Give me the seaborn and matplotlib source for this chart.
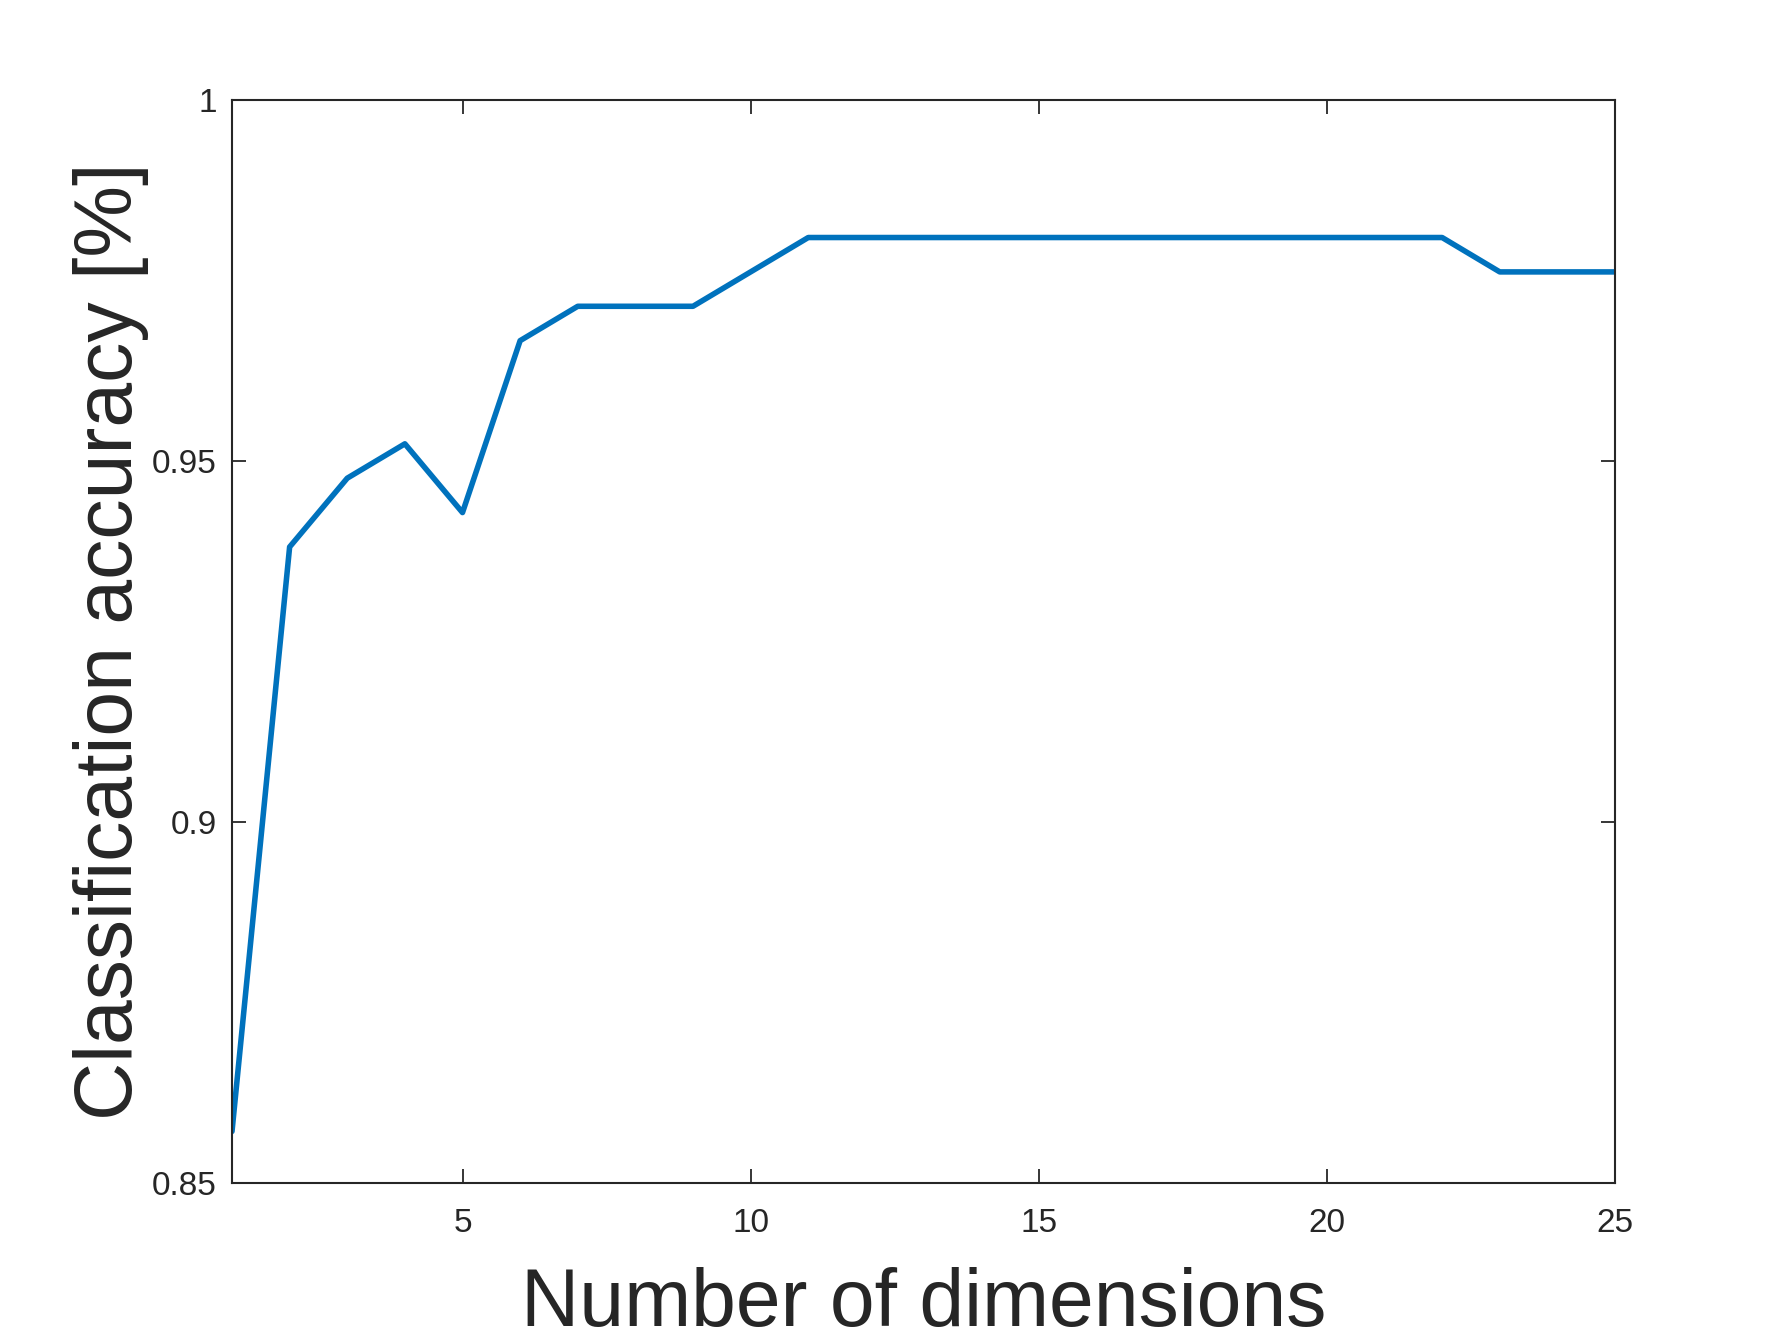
import matplotlib
matplotlib.use("Agg")
import matplotlib.pyplot as plt
import seaborn as sns
import pandas as pd

dimensions = list(range(1, 26))
accuracy = [180/210, 197/210, 199/210, 200/210, 198/210, 203/210, 204/210, 204/210, 204/210,
            205/210, 206/210, 206/210, 206/210, 206/210, 206/210, 206/210, 206/210, 206/210,
            206/210, 206/210, 206/210, 206/210, 205/210, 205/210, 205/210]
x_ticks = [5, 10, 15, 20, 25]
y_ticks = [0.85, 0.9, 0.95, 1.0]
y_tick_labels = ["0.85", "0.9", "0.95", "1"]

sns.set_theme(style="white")
plt.rcParams['font.family'] = ['Liberation Sans', 'DejaVu Sans']

df = pd.DataFrame({"dim": dimensions, "acc": accuracy})

fig = plt.figure(figsize=(17.84, 13.41), dpi=100)
ax = fig.add_axes([232/1784, 1 - 1183/1341, (1615-232)/1784, (1183-100)/1341])
sns.lineplot(data=df, x="dim", y="acc", ax=ax, color="#0072BD", linewidth=4.0)

ax.set_xlim(1, 25)
ax.set_ylim(0.85, 1.0)
ax.set_xticks(x_ticks)
ax.set_xticklabels([str(t) for t in x_ticks])
ax.set_yticks(y_ticks)
ax.set_yticklabels(y_tick_labels)
ax.tick_params(axis="both", direction="in", length=10, width=1.3, colors="#262626",
               labelsize=24, top=True, right=True, bottom=True, left=True)
ax.tick_params(axis="x", pad=18)
ax.tick_params(axis="y", pad=11)
for s in ax.spines.values():
    s.set_visible(True)
    s.set_color("#262626")
    s.set_linewidth(1.5)

ax.set_xlabel("Number of dimensions", fontsize=58, color="#262626", labelpad=20)
ax.set_ylabel("Classification accuracy [%]", fontsize=58, color="#262626", labelpad=2)

fig.savefig("out.png", dpi=100, facecolor="white")
